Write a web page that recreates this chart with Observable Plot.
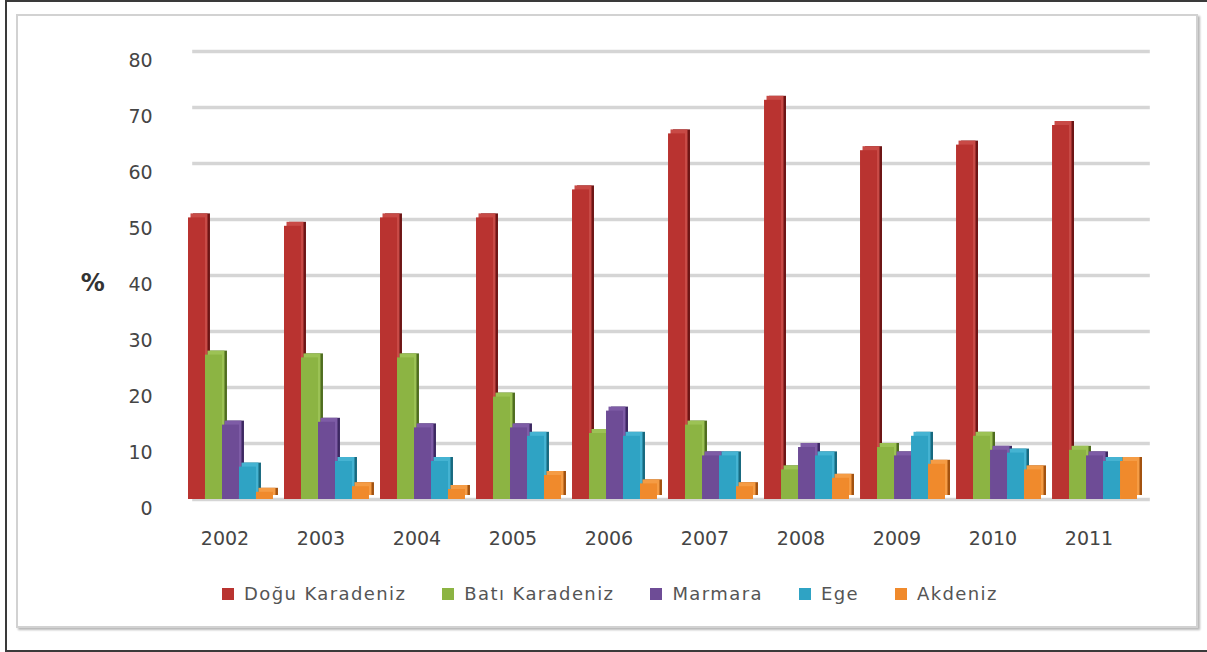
<!DOCTYPE html>
<html>
<head>
<meta charset="utf-8">
<script src="https://cdn.jsdelivr.net/npm/d3@7"></script>
<script src="https://cdn.jsdelivr.net/npm/@observablehq/plot@0.6"></script>
<style>
  body { margin: 0; background: #fff; width: 1207px; height: 652px; overflow: hidden; position: relative; }
  #outer { position: absolute; left: 5px; top: 0; width: 1215px; height: 652px; border: 2px solid #3a3a3a; box-sizing: border-box; }
  #inner { position: absolute; left: 16px; top: 14px; width: 1182px; height: 614px; border: 2px solid #d2d2d2; box-shadow: 2px 2px 2px #b8b8b8; box-sizing: border-box; }
  #chart { position: absolute; left: 0; top: 0; }
  #legend { position: absolute; left: 222px; top: 583px; display: flex; gap: 36px; font-family: "DejaVu Sans", sans-serif; font-size: 18px; color: #555; letter-spacing: 1.4px; }
  .item { display: flex; align-items: center; }
  .sw { width: 12px; height: 12px; margin-right: 10px; }
</style>
</head>
<body>
<div id="outer"></div>
<div id="inner"></div>
<div id="chart"></div>
<div id="legend"></div>
<script>
const years = ["2002","2003","2004","2005","2006","2007","2008","2009","2010","2011"];
const regions = ["Doğu Karadeniz","Batı Karadeniz","Marmara","Ege","Akdeniz"];
const doguKaradeniz = [51, 49.5, 51, 51, 56, 66, 72, 63, 64, 67.5];
const batiKaradeniz = [26.5, 26, 26, 19, 12.5, 14, 6, 10, 12, 9.5];
const marmara       = [14, 14.5, 13.5, 13.5, 16.5, 8.5, 10, 8.5, 9.5, 8.5];
const ege           = [6.5, 7.5, 7.5, 12, 12, 8.5, 8.5, 12, 9, 7.5];
const akdeniz       = [2, 3, 2.5, 5, 3.5, 3, 4.5, 7, 6, 7.5];
const yTicks = [0, 10, 20, 30, 40, 50, 60, 70, 80];
const yLabel = "%";

const series = [doguKaradeniz, batiKaradeniz, marmara, ege, akdeniz];
const colors = ["#b93330", "#8cb443", "#6e4c96", "#2fa3c4", "#f08a2c"];
const sideColors = ["#6e1515", "#4f6d1f", "#3d2862", "#17697f", "#a3520f"];
const topColors = ["#c84a46", "#9cc255", "#7e5ca6", "#45b3d2", "#f59c45"];

const data = years.flatMap((y, i) => regions.map((r, j) => ({year: y, region: r, value: series[j][i]})));

const bw = 85;           // band width in px (step 96, paddingInner ~0.115)
const barW = bw / regions.length;
const depth = 4;

const barMarks = regions.flatMap((r, j) => {
  const sub = data.filter(d => d.region === r);
  const il = j * barW, ir = (regions.length - 1 - j) * barW;
  return [
    Plot.barY(sub, {x: "year", y: "value", fill: sideColors[j], insetLeft: il, insetRight: ir, dx: 5, insetBottom: depth}),
    Plot.barY(sub, {x: "year", y: "value", fill: topColors[j], insetLeft: il, insetRight: ir, dx: 2.5, insetBottom: depth}),
    Plot.barY(sub, {x: "year", y: "value", fill: colors[j], insetLeft: il, insetRight: ir, insetTop: depth})
  ];
});

const chart = Plot.plot({
  width: 1207,
  height: 570,
  marginTop: 51,
  marginBottom: 71,
  marginLeft: 183.2,
  marginRight: 65.2,
  style: {fontFamily: "DejaVu Sans, sans-serif", fontSize: "19px", color: "#454545", background: "transparent"},
  x: {type: "band", domain: years, paddingInner: 0.115, paddingOuter: 0.05, round: false},
  y: {domain: [0, 80]},
  marks: [
    Plot.ruleY(yTicks, {stroke: "#d5d5d5", strokeWidth: 3.5, insetLeft: 9, insetRight: -8}),
    ...barMarks,
    Plot.axisY({ticks: yTicks, tickSize: 0, tickPadding: 31, dy: 9, label: null}),
    Plot.axisX({tickSize: 0, tickPadding: 32, dx: -6, label: null}),
    Plot.text([yLabel], {frameAnchor: "left", textAnchor: "middle", y: () => 40, dx: -91, dy: 8, fontSize: 24, fontWeight: "bold", fill: "#333"})
  ]
});
document.getElementById("chart").appendChild(chart);

const legend = document.getElementById("legend");
regions.forEach((r, j) => {
  const it = document.createElement("div");
  it.className = "item";
  const sw = document.createElement("div");
  sw.className = "sw";
  sw.style.background = colors[j];
  const t = document.createElement("span");
  t.textContent = r;
  it.appendChild(sw);
  it.appendChild(t);
  legend.appendChild(it);
});
</script>
</body>
</html>
